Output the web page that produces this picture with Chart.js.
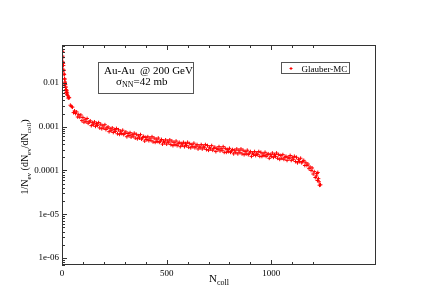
<!DOCTYPE html>
<html><head><meta charset="utf-8">
<script src="https://cdn.jsdelivr.net/npm/chart.js@4/dist/chart.umd.min.js"></script>
<style>html,body{margin:0;padding:0;background:#fff}#wrap{width:432px;height:305px;position:relative}</style>
</head><body><div id="wrap"><canvas id="c" width="432" height="305"></canvas></div>
<script>
// ---- data ----
const nColl = [
0,1,2,3,4,5,6,7,8,9,10,11,12,13,14,
15,20,25,30,35,40,45,50,55,60,
65,70,75,80,85,90,95,100,105,110,
115,120,125,130,135,140,145,150,155,160,
165,170,175,180,185,190,195,200,205,210,
215,220,225,230,235,240,245,250,255,260,
265,270,275,280,285,290,295,300,305,310,
315,320,325,330,335,340,345,350,355,360,
365,370,375,380,385,390,395,400,405,410,
415,420,425,430,435,440,445,450,455,460,
465,470,475,480,485,490,495,500,505,510,
515,520,525,530,535,540,545,550,555,560,
565,570,575,580,585,590,595,600,605,610,
615,620,625,630,635,640,645,650,655,660,
665,670,675,680,685,690,695,700,705,710,
715,720,725,730,735,740,745,750,755,760,
765,770,775,780,785,790,795,800,805,810,
815,820,825,830,835,840,845,850,855,860,
865,870,875,880,885,890,895,900,905,910,
915,920,925,930,935,940,945,950,955,960,
965,970,975,980,985,990,995,1000,1005,1010,
1015,1020,1025,1030,1035,1040,1045,1050,1055,1060,
1065,1070,1075,1080,1085,1090,1095,1100,1105,1110,
1115,1120,1125,1130,1135,1140,1145,1150,1155,1160,
1165,1170,1175,1180,1185,1190,1195,1200,1205,1210,
1215,1220,1225,1230,1235,
1218,1222,1228,
16,17,18,19,21,22,23,24,27,32
];
const density = [
0.068,0.057,0.052,0.041,0.038,0.030,0.028,0.025,0.0195,0.0195,0.0160,0.0155,0.0125,0.0122,0.0100,
0.0105,0.0061,0.0059,0.0045,0.0046,0.0031,0.0029,0.0028,0.0021,0.0023,
0.0020,0.00218,0.00167,0.00189,0.00165,0.00186,0.00138,0.00163,0.00127,0.00148,
0.00130,0.00154,0.00120,0.00129,0.00136,0.00106,0.00124,0.00111,0.00129,0.00102,
0.00119,0.00107,0.00124,0.00094,0.00114,0.00090,0.00105,0.00093,0.00111,0.00086,
0.00094,0.00099,0.00077,0.00090,0.00081,0.00094,0.00074,0.00086,0.00078,0.00091,
0.00069,0.00085,0.00067,0.00079,0.00070,0.00083,0.00066,0.00071,0.00076,0.00059,
0.00070,0.00063,0.00073,0.00058,0.00067,0.00061,0.00071,0.00055,0.00067,0.00053,
0.00062,0.00055,0.00066,0.00052,0.00056,0.00060,0.00047,0.00057,0.00051,0.00059,
0.00048,0.00055,0.00049,0.00059,0.00045,0.00055,0.00044,0.00052,0.00046,0.00055,
0.00044,0.00047,0.00051,0.00040,0.00047,0.00043,0.00050,0.00040,0.00047,0.00043,
0.00050,0.00039,0.00047,0.00037,0.00044,0.00039,0.00047,0.00037,0.00041,0.00044,
0.00035,0.00041,0.00038,0.00044,0.00035,0.00041,0.00037,0.00044,0.00034,0.00041,
0.00033,0.00039,0.00035,0.00042,0.00033,0.00036,0.00039,0.00031,0.00036,0.00033,
0.00039,0.00031,0.00036,0.00033,0.00039,0.00030,0.00037,0.00029,0.00034,0.00031,
0.00037,0.00029,0.00032,0.00034,0.00027,0.00032,0.00030,0.00035,0.00028,0.00032,
0.00029,0.00035,0.00026,0.00032,0.00026,0.00030,0.00027,0.00032,0.00026,0.00028,
0.00030,0.00024,0.00029,0.00026,0.00031,0.00024,0.00029,0.00026,0.00031,0.00024,
0.00029,0.00023,0.00027,0.00024,0.00029,0.00023,0.00025,0.00027,0.00021,0.00025,
0.00023,0.00027,0.00022,0.00025,0.00023,0.00027,0.00021,0.00026,0.00021,0.00024,
0.00022,0.00026,0.00021,0.00023,0.00024,0.00019,0.00023,0.00021,0.00025,0.00020,
0.00023,0.00021,0.00025,0.00019,0.00023,0.00018,0.00022,0.00019,0.00023,0.00018,
0.00020,0.00021,0.00017,0.00020,0.00019,0.00022,0.00017,0.00020,0.00018,0.00021,
0.00016,0.00020,0.00015,0.00018,0.00016,0.00019,0.00015,0.00016,0.00017,0.00013,
0.00015,0.00013,0.00014,0.00011,0.00012,0.00010,0.000114,0.000083,0.000094,0.000069,
0.000075,0.000059,0.000065,0.000046,0.000047,
0.000085,0.000090,0.000055,
0.0092,0.0080,0.0081,0.0070,0.0069,0.0060,0.0066,0.0054,0.0052,0.0047
];
const seriesLabel = 'Glauber-MC';
const xTickValues = [0, 500, 1000];
const yTickValues = [0.01, 0.001, 0.0001, 1e-5, 1e-6];
const yTickLabels = ['0.01', '0.001', '0.0001', '1e-05', '1e-06'];
const annotationLine1 = 'Au-Au  @ 200 GeV';
const annotationLine2 = ['\u03C3', 'NN', '=42 mb'];

const SERIF = '"Liberation Serif", "DejaVu Serif", serif';
const RED = '#ff0000';

function drawSegments(ctx, segs, x, y, size, subSize, subOff) {
  let cx = x;
  for (const [t, sub] of segs) {
    ctx.font = (sub ? subSize : size) + 'px ' + SERIF;
    ctx.fillText(t, cx, y + (sub ? subOff : 0));
    cx += ctx.measureText(t).width;
  }
}
function segWidth(ctx, segs, size, subSize) {
  let w = 0;
  for (const [t, sub] of segs) {
    ctx.font = (sub ? subSize : size) + 'px ' + SERIF;
    w += ctx.measureText(t).width;
  }
  return w;
}

const decor = {
  id: 'decor',
  afterDraw(chart) {
    const ctx = chart.ctx, a = chart.chartArea;
    const xs = chart.scales.x, ys = chart.scales.y;
    ctx.save();
    ctx.strokeStyle = '#333';
    ctx.lineWidth = 1;
    ctx.strokeRect(Math.round(a.left) + 0.5, Math.round(a.top) + 0.5,
      Math.round(a.right - a.left) - 1, Math.round(a.bottom - a.top) - 1);
    // x ticks (inside, bottom & top)
    ctx.beginPath();
    for (let v = 0; v <= 1200; v += 100) {
      const px = Math.round(xs.getPixelForValue(v)) + 0.5;
      const len = (v % 500 === 0) ? 5 : 3;
      ctx.moveTo(px, a.bottom); ctx.lineTo(px, a.bottom - len);
      ctx.moveTo(px, a.top); ctx.lineTo(px, a.top + len);
    }
    // y ticks (inside, left)
    for (let e = -7; e <= -1; e++) {
      for (let m = 1; m <= 9; m++) {
        const v = m * Math.pow(10, e);
        if (v < ys.min || v > ys.max) continue;
        const py = Math.round(ys.getPixelForValue(v)) + 0.5;
        const len = m === 1 ? 5 : 3;
        ctx.moveTo(a.left, py); ctx.lineTo(a.left + len, py);
      }
    }
    ctx.stroke();

    ctx.fillStyle = '#000';
    ctx.textBaseline = 'alphabetic';
    ctx.textAlign = 'left';
    // x title
    const xt = [['N', false], ['coll', true]];
    const xw = segWidth(ctx, xt, 11, 8);
    drawSegments(ctx, xt, (a.left + a.right) / 2 - xw / 2, 282, 11, 8, 3);
    // y title
    const yt = [['1/N', false], ['ev', true], [' (dN', false], ['ev', true], ['/dN', false], ['coll', true], [')', false]];
    const yw = segWidth(ctx, yt, 10, 7);
    ctx.save();
    ctx.translate(28, 157);
    ctx.rotate(-Math.PI / 2);
    drawSegments(ctx, yt, -yw / 2, 0, 10, 7, 2.5);
    ctx.restore();

    // annotation box
    ctx.strokeStyle = '#555';
    ctx.strokeRect(98.5, 62.5, 95, 31);
    ctx.font = '11px ' + SERIF;
    ctx.fillText(annotationLine1, 104, 74);
    drawSegments(ctx, [[annotationLine2[0], false], [annotationLine2[1], true], [annotationLine2[2], false]], 116, 84.5, 11, 8, 2.5);

    // legend box
    ctx.strokeRect(281.5, 62.5, 68, 11);
    ctx.strokeStyle = RED;
    ctx.beginPath();
    ctx.moveTo(289.5, 68.5); ctx.lineTo(292.5, 68.5);
    ctx.moveTo(291, 67); ctx.lineTo(291, 70);
    ctx.stroke();
    ctx.fillStyle = '#000';
    ctx.font = '9px ' + SERIF;
    ctx.fillText(chart.data.datasets[0].label, 301.5, 71.5);
    ctx.restore();
  }
};

new Chart(document.getElementById('c'), {
  type: 'scatter',
  data: {
    datasets: [{
      label: seriesLabel,
      data: nColl.map((n, i) => ({ x: n, y: density[i] })),
      pointStyle: 'cross',
      pointRadius: 1.9,
      borderWidth: 1,
      borderColor: RED,
      backgroundColor: RED,
      showLine: false
    }]
  },
  options: {
    responsive: false,
    animation: false,
    events: [],
    layout: { padding: { left: 0, top: 45, right: 56, bottom: 0 } },
    plugins: { legend: { display: false }, tooltip: { enabled: false } },
    scales: {
      x: {
        type: 'linear', min: 0, max: 1500, position: 'bottom',
        grid: { display: false, drawTicks: false }, border: { display: false },
        ticks: {
          stepSize: 100, autoSkip: false, maxRotation: 0, padding: 3,
          color: '#000', font: { family: SERIF, size: 9 },
          callback: v => xTickValues.includes(v) ? String(v) : ''
        },
        afterFit: s => { s.height = 40; }
      },
      y: {
        type: 'logarithmic', min: 6.9e-7, max: 0.0738, position: 'left',
        grid: { display: false, drawTicks: false }, border: { display: false },
        ticks: {
          autoSkip: false, padding: 3, color: '#000', font: { family: SERIF, size: 9 },
          callback: v => {
            const i = yTickValues.findIndex(t => Math.abs(t - v) / t < 1e-6);
            return i >= 0 ? yTickLabels[i] : '';
          }
        },
        afterFit: s => { s.width = 62; }
      }
    }
  },
  plugins: [decor]
});
</script></body></html>
